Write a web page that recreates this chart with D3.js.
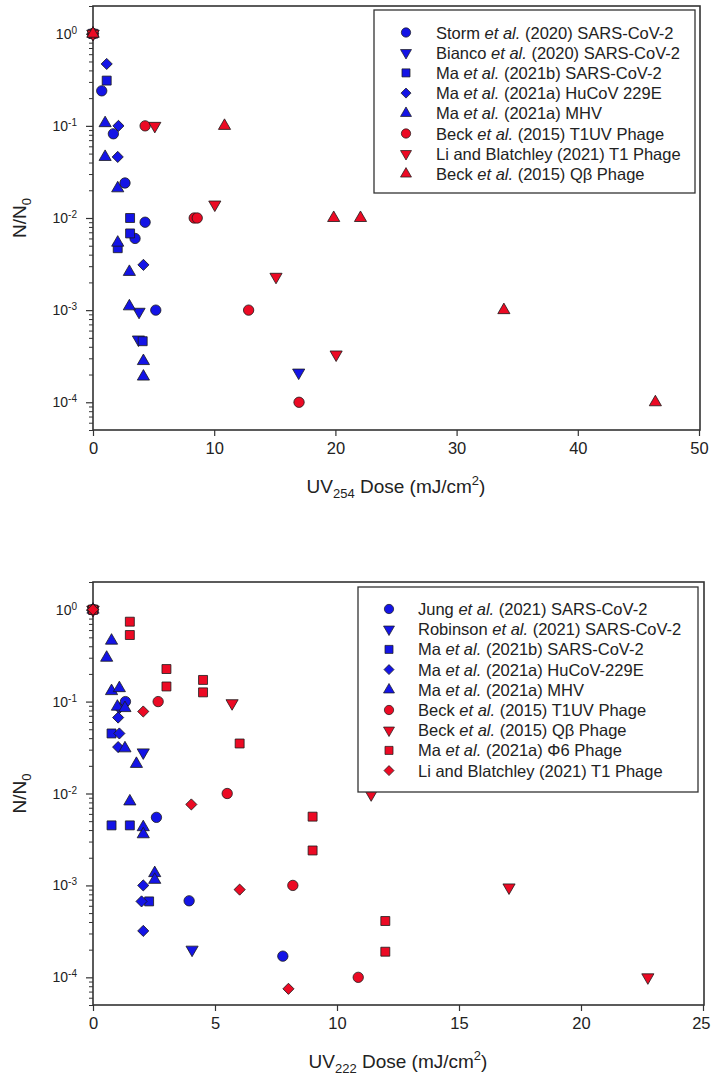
<!DOCTYPE html>
<html>
<head>
<meta charset="utf-8">
<script src="https://cdnjs.cloudflare.com/ajax/libs/d3/7.8.5/d3.min.js"></script>
<style>
body{margin:0;background:#fff;}
svg{font-family:"Liberation Sans", Arial, sans-serif;}
</style>
</head>
<body>
<div id="chart"></div>
<script>
// UV254 panel
var labels254 = ["Storm et al. (2020) SARS-CoV-2",
                 "Bianco et al. (2020) SARS-CoV-2",
                 "Ma et al. (2021b) SARS-CoV-2",
                 "Ma et al. (2021a) HuCoV 229E",
                 "Ma et al. (2021a) MHV",
                 "Beck et al. (2015) T1UV Phage",
                 "Li and Blatchley (2021) T1 Phage",
                 "Beck et al. (2015) Qβ Phage"];
var shapes254 = ["circle", "down", "square", "diamond", "up", "circle", "down", "up"];
var colors254 = ["blue", "blue", "blue", "blue", "blue", "red", "red", "red"];
var xTicks254 = [0, 10, 20, 30, 40, 50];

var storm254 = [[0, 1], [0.72, 0.24], [1.68, 0.082], [2.64, 0.024], [4.3, 0.009], [3.47, 0.006], [5.18, 0.001]];
var bianco254 = [[0, 1], [3.8, 0.00096], [3.75, 0.00048], [16.97, 0.00021]];
var ma21b254 = [[0, 1], [1.13, 0.31], [3.06, 0.01], [3.06, 0.0068], [2.04, 0.0047], [4.1, 0.00046]];
var hucov254 = [[0, 1], [1.13, 0.47], [2.1, 0.1], [2.04, 0.046], [4.16, 0.0031]];
var mhv254 = [[0, 1], [1.0, 0.107], [1.0, 0.046], [2.04, 0.021], [2.04, 0.0054], [3.0, 0.0026], [3.0, 0.0011], [4.16, 0.00028], [4.16, 0.00019]];
var beckT1uv254 = [[0, 1], [4.3, 0.1], [8.35, 0.01], [8.6, 0.01], [12.84, 0.001], [17.0, 0.0001]];
var liT1_254 = [[0, 1], [5.1, 0.1], [10.05, 0.014], [15.1, 0.0023], [20.06, 0.00033]];
var beckQb254 = [[0, 1], [10.85, 0.1], [19.86, 0.01], [22.07, 0.01], [33.9, 0.001], [46.4, 0.0001]];

// UV222 panel
var labels222 = ["Jung et al. (2021) SARS-CoV-2",
                 "Robinson et al. (2021) SARS-CoV-2",
                 "Ma et al. (2021b) SARS-CoV-2",
                 "Ma et al. (2021a) HuCoV-229E",
                 "Ma et al. (2021a) MHV",
                 "Beck et al. (2015) T1UV Phage",
                 "Beck et al. (2015) Qβ Phage",
                 "Ma et al. (2021a) Φ6 Phage",
                 "Li and Blatchley (2021) T1 Phage"];
var shapes222 = ["circle", "down", "square", "diamond", "up", "circle", "down", "square", "diamond"];
var colors222 = ["blue", "blue", "blue", "blue", "blue", "red", "red", "red", "red"];
var xTicks222 = [0, 5, 10, 15, 20, 25];

var jung222 = [[0, 1], [1.33, 0.1], [2.6, 0.0055], [3.94, 0.00068], [7.78, 0.00017]];
var robinson222 = [[0, 1], [2.06, 0.028], [4.06, 0.0002]];
var ma21b222 = [[0, 1], [0.76, 0.045], [0.76, 0.0045], [1.51, 0.0045], [2.3, 0.00067]];
var hucov222 = [[0, 1], [1.08, 0.085], [1.03, 0.067], [1.08, 0.045], [1.03, 0.032], [2.06, 0.001], [1.99, 0.00067], [2.06, 0.00032]];
var mhv222 = [[0, 1], [0.76, 0.46], [0.56, 0.30], [0.76, 0.13], [1.08, 0.14], [1.0, 0.088], [1.31, 0.085], [1.31, 0.031], [1.78, 0.021], [1.51, 0.0082], [2.06, 0.0043], [2.06, 0.0036], [2.53, 0.00136], [2.53, 0.00115]];
var beckT1uv222 = [[0, 1], [2.67, 0.1], [5.5, 0.01], [8.19, 0.001], [10.87, 0.0001]];
var beckQb222 = [[0, 1], [5.7, 0.096], [11.4, 0.0098], [17.05, 0.00095], [22.74, 0.0001]];
var maPhi6_222 = [[0, 1], [1.51, 0.74], [1.51, 0.53], [3.01, 0.226], [3.01, 0.146], [4.51, 0.172], [4.51, 0.126], [6.01, 0.035], [9.0, 0.0056], [9.0, 0.0024], [11.98, 0.00041], [11.98, 0.00019]];
var liT1_222 = [[0, 1], [2.06, 0.078], [4.03, 0.0076], [6.01, 0.0009], [8.01, 0.000075]];

var yMajor = [1e-4, 1e-3, 1e-2, 1e-1, 1];
var yExp = ["-4", "-3", "-2", "-1", "0"];

var fills = {blue: "#1414e6", red: "#ec0a24"};

function symbolPath(shape){
	if(shape == "circle") return d3.symbol().type(d3.symbolCircle).size(84)();
	if(shape == "square") return d3.symbol().type(d3.symbolSquare).size(80)();
	if(shape == "diamond") return d3.symbol().type(d3.symbolSquare).size(62)();
	return d3.symbol().type(d3.symbolTriangle).size(64)();
}
function symbolRot(shape){
	if(shape == "diamond") return 45;
	if(shape == "down") return 180;
	return 0;
}

function addLabel(sel, label){
	var k = label.indexOf(" et al.");
	if(k < 0){ sel.append("tspan").text(label); return; }
	sel.append("tspan").text(label.substring(0, k) + " ");
	sel.append("tspan").attr("font-style", "italic").text("et al.");
	sel.append("tspan").text(label.substring(k + 7));
}

function drawPanel(svg, p){
	var left = 93;
	var x = d3.scaleLinear().domain([0, p.xMax]).range([left, p.right]);
	var y = d3.scaleLog().domain([5e-5, 2]).range([p.bottom, p.top]);

	// minor y ticks
	var minor = [];
	for(var e = -5; e <= 0; e++){
		for(var m = 2; m <= 9; m++){
			var v = m * Math.pow(10, e);
			if(v >= 5e-5 && v <= 2) minor.push(v);
		}
	}
	svg.append("g").attr("transform", "translate(" + left + ",0)")
		.call(d3.axisLeft(y).tickValues(minor).tickSize(4).tickSizeOuter(0).tickFormat(""))
		.call(function(g){ g.select(".domain").remove(); g.selectAll("line").attr("stroke", "#333"); });
	svg.append("g").attr("transform", "translate(" + left + ",0)")
		.call(d3.axisLeft(y).tickValues(yMajor).tickSize(7).tickSizeOuter(0).tickFormat(""))
		.call(function(g){ g.select(".domain").remove(); g.selectAll("line").attr("stroke", "#333").attr("stroke-width", 1.2); });

	var yl = svg.selectAll(null).data(yMajor).enter().append("text")
		.attr("x", 77)
		.attr("y", function(d){ return y(d) + 5; })
		.attr("text-anchor", "end")
		.attr("font-size", 14)
		.attr("fill", "#222");
	yl.append("tspan").text("10");
	yl.append("tspan").attr("dy", -5).attr("font-size", 10)
		.text(function(d, i){ return yExp[i]; });

	// x axis
	svg.append("g").attr("transform", "translate(0," + p.bottom + ")")
		.call(d3.axisBottom(x).tickValues(p.xTicks).tickSize(6).tickSizeOuter(0).tickPadding(6))
		.call(function(g){
			g.select(".domain").remove();
			g.selectAll("line").attr("stroke", "#333").attr("stroke-width", 1.2);
			g.selectAll("text").attr("font-size", 16.5).attr("fill", "#222")
				.attr("font-family", "Liberation Sans, Arial, sans-serif");
			// keep the last label inside the page
			if(p.right > 700){
				g.selectAll(".tick:last-of-type text")
					.attr("text-anchor", "end")
					.attr("x", 710 - p.right);
			}
		});

	// frame
	svg.append("rect")
		.attr("x", left).attr("y", p.top)
		.attr("width", p.right + 1 - left).attr("height", p.bottom - p.top)
		.attr("fill", "none").attr("stroke", "#333").attr("stroke-width", 1.6);

	// points
	p.series.forEach(function(s, i){
		svg.append("g").selectAll("path")
			.data(s)
			.enter()
			.append("path")
			.attr("d", symbolPath(p.shapes[i]))
			.attr("transform", function(d){
				return "translate(" + x(d[0]) + "," + y(d[1]) + ") rotate(" + symbolRot(p.shapes[i]) + ")";
			})
			.attr("fill", fills[p.colors[i]])
			.attr("stroke", "#1a1a1a")
			.attr("stroke-width", 0.8);
	});

	// legend
	var lg = svg.append("g");
	lg.append("rect")
		.attr("x", p.lx).attr("y", p.ly).attr("width", p.lw).attr("height", p.lh)
		.attr("fill", "#fff").attr("stroke", "#333").attr("stroke-width", 1.3);
	p.labels.forEach(function(label, i){
		var cy = p.row0 + i * p.rowStep;
		lg.append("path")
			.attr("d", symbolPath(p.shapes[i]))
			.attr("transform", "translate(" + p.mx + "," + cy + ") rotate(" + symbolRot(p.shapes[i]) + ") scale(0.9)")
			.attr("fill", fills[p.colors[i]])
			.attr("stroke", "#1a1a1a")
			.attr("stroke-width", 0.8);
		var t = lg.append("text")
			.attr("x", p.tx).attr("y", cy + 6)
			.attr("font-size", 16.5)
			.attr("fill", "#222");
		addLabel(t, label);
	});

	// y title
	var yt = svg.append("text")
		.attr("transform", "translate(26," + (p.top + p.bottom) / 2 + ") rotate(-90)")
		.attr("text-anchor", "middle")
		.attr("font-size", 19)
		.attr("fill", "#222");
	yt.append("tspan").text("N/N");
	yt.append("tspan").attr("dy", 5).attr("font-size", 13).text("0");

	// x title
	var xt = svg.append("text")
		.attr("x", (left + p.right) / 2)
		.attr("y", p.bottom + 63)
		.attr("text-anchor", "middle")
		.attr("font-size", 19)
		.attr("fill", "#222");
	xt.append("tspan").text("UV");
	xt.append("tspan").attr("dy", 5).attr("font-size", 13).text(p.wave);
	xt.append("tspan").attr("dy", -5).text(" Dose (mJ/cm");
	xt.append("tspan").attr("dy", -8).attr("font-size", 13).text("2");
	xt.append("tspan").attr("dy", 8).text(")");
}

function init(){
	var w = 711;
	var h = 1083;
	var svg = d3.select("#chart")
		.append("svg")
		.attr("width", w)
		.attr("height", h);

	drawPanel(svg, {
		top: 6, bottom: 430, right: 699, xMax: 50, xTicks: xTicks254, wave: "254",
		series: [storm254, bianco254, ma21b254, hucov254, mhv254, beckT1uv254, liT1_254, beckQb254],
		shapes: shapes254, colors: colors254, labels: labels254,
		lx: 374, ly: 10, lw: 321, lh: 183, mx: 406, tx: 436, row0: 32.5, rowStep: 20.2
	});

	drawPanel(svg, {
		top: 582, bottom: 1005, right: 703, xMax: 25, xTicks: xTicks222, wave: "222",
		series: [jung222, robinson222, ma21b222, hucov222, mhv222, beckT1uv222, beckQb222, maPhi6_222, liT1_222],
		shapes: shapes222, colors: colors222, labels: labels222,
		lx: 358, ly: 587, lw: 340, lh: 205, mx: 389, tx: 418, row0: 609, rowStep: 20.2
	});
}

window.onload = init;
</script>
</body>
</html>
